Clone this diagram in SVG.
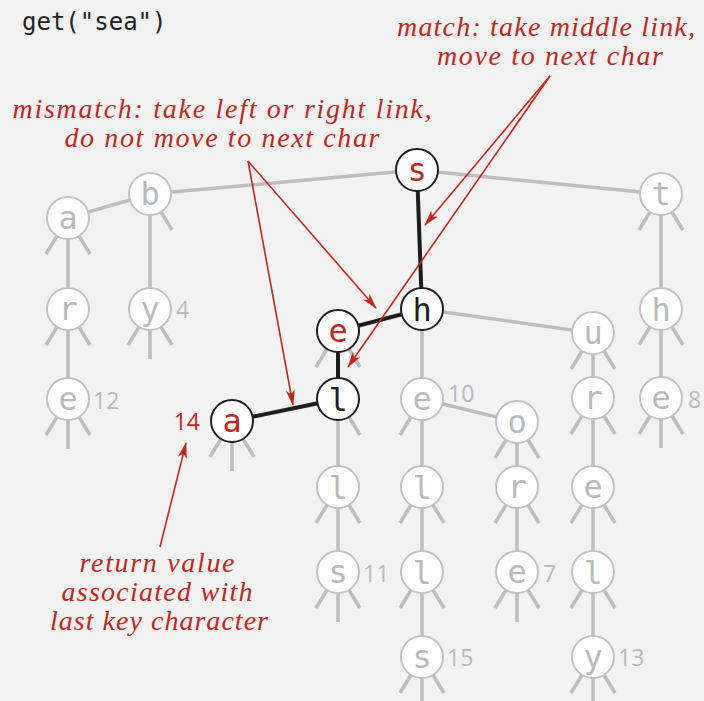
<svg xmlns="http://www.w3.org/2000/svg" xmlns:xlink="http://www.w3.org/1999/xlink" width="704" height="701" viewBox="0 0 704 701">
<style>
.bg{fill:#f2f2f2}
.gl{stroke:#bdbdc0;stroke-width:3.5;fill:none}
.bl{stroke:#1e1e1e;stroke-width:4;fill:none}
.st{stroke:#bdbdc0;stroke-width:3.5;fill:none}
.gc{fill:#ffffff;stroke:#c2c2c5;stroke-width:2}
.kc{fill:#ffffff;stroke:#1e1e1e;stroke-width:2}
.lt{font-family:"DejaVu Sans Mono",monospace;font-size:32px;text-anchor:middle}
.gt{fill:#b9b9bc}
.rt{fill:#c0281f}
.kt{fill:#1e1e1e}
.num{font-family:"Open Sans","Liberation Sans",sans-serif;font-size:23px;fill:#b9b9bc}
.ann{font-family:"Liberation Serif",serif;font-style:italic;font-size:28px;fill:#c0281f;text-anchor:middle}
.ar{stroke:#c0281f;stroke-width:1.6;fill:none;marker-end:url(#ah)}
</style>
<defs>
<marker id="ah" markerUnits="userSpaceOnUse" viewBox="0 0 16 10" refX="15" refY="5" markerWidth="16" markerHeight="10" orient="auto">
<path d="M0,0.5 L16,5 L0,9.5 L4,5 z" fill="#c0281f"/>
</marker>
<path id="sL" class="st" d="M0,0 L-22,36"/>
<path id="sM" class="st" d="M0,0 V50"/>
<path id="sR" class="st" d="M0,0 L22,36"/>
</defs>
<rect class="bg" width="704" height="701"/>
<text x="22" y="30" style="font-family:'DejaVu Sans Mono',monospace;font-size:24px;fill:#222">get("sea")</text>

<g id="connectors">
<path class="gl" d="M150,194 L417,170 L661,194"/>
<path class="gl" d="M68,218 L150,194 L150,309"/>
<path class="gl" d="M68,218 V399"/>
<path class="gl" d="M661,194 V398"/>
<path class="gl" d="M422,309 L593,333 V572 L593,657"/>
<path class="gl" d="M422,309 V657"/>
<path class="gl" d="M422,399 L517,422 V572"/>
<path class="gl" d="M338,399 V572"/>
<path class="bl" d="M417,170 L422,309 L338,331 L338,399 L232,421"/>
</g>

<g id="n_s" transform="translate(417,170)"><circle class="kc" r="21"/><text class="lt rt" y="11">s</text></g>
<g id="n_b" transform="translate(150,194)"><use href="#sR"/><circle class="gc" r="21"/><text class="lt gt" y="11">b</text></g>
<g id="n_a1" transform="translate(68,218)"><use href="#sL"/><use href="#sR"/><circle class="gc" r="21"/><text class="lt gt" y="11">a</text></g>
<g id="n_t" transform="translate(661,194)"><use href="#sL"/><use href="#sR"/><circle class="gc" r="21"/><text class="lt gt" y="11">t</text></g>
<g id="n_r1" transform="translate(68,309)"><use href="#sL"/><use href="#sR"/><circle class="gc" r="21"/><text class="lt gt" y="11">r</text></g>
<g id="n_y4" transform="translate(150,309)"><use href="#sL"/><use href="#sM"/><use href="#sR"/><circle class="gc" r="21"/><text class="lt gt" y="11">y</text><text class="num" x="26" y="9">4</text></g>
<g id="n_e12" transform="translate(68,399)"><use href="#sL"/><use href="#sM"/><use href="#sR"/><circle class="gc" r="21"/><text class="lt gt" y="11">e</text><text class="num" x="25" y="10">12</text></g>
<g id="n_h" transform="translate(422,309)"><circle class="kc" r="21"/><text class="lt kt" y="12">h</text></g>
<g id="n_e" transform="translate(338,331)"><use href="#sL"/><use href="#sR"/><circle class="kc" r="21"/><text class="lt rt" y="11">e</text></g>
<g id="n_u" transform="translate(593,333)"><use href="#sL"/><use href="#sR"/><circle class="gc" r="21"/><text class="lt gt" y="11">u</text></g>
<g id="n_h2" transform="translate(661,309)"><use href="#sL"/><use href="#sR"/><circle class="gc" r="21"/><text class="lt gt" y="12">h</text></g>
<g id="n_l" transform="translate(338,399)"><use href="#sR"/><circle class="kc" r="21"/><text class="lt kt" y="12">l</text></g>
<g id="n_a" transform="translate(232,421)"><use href="#sL"/><use href="#sM"/><use href="#sR"/><circle class="kc" r="21"/><text class="lt rt" y="11">a</text><text x="-32" y="9" style="font-family:'Open Sans','Liberation Sans',sans-serif;font-size:23px;fill:#c0281f;text-anchor:end">14</text></g>
<g id="n_e10" transform="translate(422,399)"><use href="#sL"/><circle class="gc" r="21"/><text class="lt gt" y="11">e</text><text class="num" x="26" y="3">10</text></g>
<g id="n_o" transform="translate(517,422)"><use href="#sL"/><use href="#sR"/><circle class="gc" r="21"/><text class="lt gt" y="11">o</text></g>
<g id="n_r2" transform="translate(593,398)"><use href="#sL"/><use href="#sR"/><circle class="gc" r="21"/><text class="lt gt" y="11">r</text></g>
<g id="n_e8" transform="translate(661,398)"><use href="#sL"/><use href="#sM"/><use href="#sR"/><circle class="gc" r="21"/><text class="lt gt" y="11">e</text><text class="num" x="27" y="10">8</text></g>
<g id="n_l2" transform="translate(338,487)"><use href="#sL"/><use href="#sR"/><circle class="gc" r="21"/><text class="lt gt" y="12">l</text></g>
<g id="n_l3" transform="translate(422,487)"><use href="#sL"/><use href="#sR"/><circle class="gc" r="21"/><text class="lt gt" y="12">l</text></g>
<g id="n_r3" transform="translate(517,487)"><use href="#sL"/><use href="#sR"/><circle class="gc" r="21"/><text class="lt gt" y="11">r</text></g>
<g id="n_e2" transform="translate(593,487)"><use href="#sL"/><use href="#sR"/><circle class="gc" r="21"/><text class="lt gt" y="11">e</text></g>
<g id="n_s11" transform="translate(338,572)"><use href="#sL"/><use href="#sM"/><use href="#sR"/><circle class="gc" r="21"/><text class="lt gt" y="11">s</text><text class="num" x="25" y="10">11</text></g>
<g id="n_l4" transform="translate(422,572)"><use href="#sL"/><use href="#sR"/><circle class="gc" r="21"/><text class="lt gt" y="12">l</text></g>
<g id="n_e7" transform="translate(517,572)"><use href="#sL"/><use href="#sM"/><use href="#sR"/><circle class="gc" r="21"/><text class="lt gt" y="11">e</text><text class="num" x="26" y="10">7</text></g>
<g id="n_l5" transform="translate(593,572)"><use href="#sL"/><use href="#sR"/><circle class="gc" r="21"/><text class="lt gt" y="12">l</text></g>
<g id="n_s15" transform="translate(422,657)"><use href="#sL"/><use href="#sM"/><use href="#sR"/><circle class="gc" r="21"/><text class="lt gt" y="11">s</text><text class="num" x="25" y="9">15</text></g>
<g id="n_y13" transform="translate(593,657)"><use href="#sL"/><use href="#sM"/><use href="#sR"/><circle class="gc" r="21"/><text class="lt gt" y="11">y</text><text class="num" x="25" y="9">13</text></g>

<g id="annotations">
<text class="ann" x="546" y="36" textLength="298" lengthAdjust="spacing">match: take middle link,</text>
<text class="ann" x="550" y="65" textLength="226" lengthAdjust="spacing">move to next char</text>
<text class="ann" x="222" y="118" textLength="419" lengthAdjust="spacing">mismatch: take left or right link,</text>
<text class="ann" x="222" y="147" textLength="315" lengthAdjust="spacing">do not move to next char</text>
<text class="ann" x="157" y="572" textLength="155" lengthAdjust="spacing">return value</text>
<text class="ann" x="157" y="601" textLength="191" lengthAdjust="spacing">associated with</text>
<text class="ann" x="159" y="630" textLength="218" lengthAdjust="spacing">last key character</text>
<path class="ar" d="M550,76 L425,225"/>
<path class="ar" d="M550,76 L348,367"/>
<path class="ar" d="M248,161 L376,308"/>
<path class="ar" d="M248,161 L293,405"/>
<path class="ar" d="M160,547 L186,443"/>
</g>
</svg>
